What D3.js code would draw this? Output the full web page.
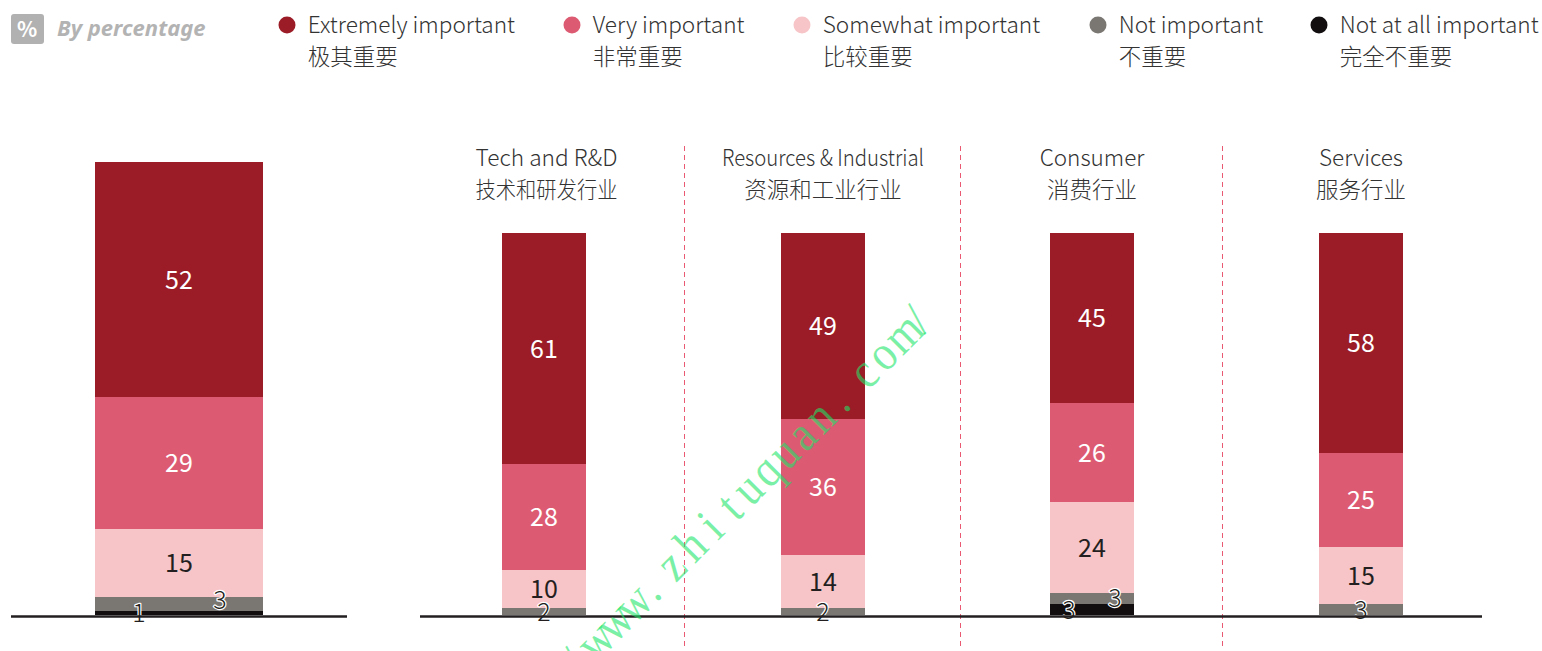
<!DOCTYPE html>
<html><head><meta charset="utf-8">
<script src="https://cdn.jsdelivr.net/npm/d3@7/dist/d3.min.js"></script>
<style>
html,body{margin:0;padding:0;background:#fff;overflow:hidden}
svg{display:block}
text{font-family:"Noto Sans CJK SC","Noto Sans",sans-serif}
</style></head><body><svg id="c" width="1542" height="651"></svg>
<script>
const seriesEn = ["Extremely important","Very important","Somewhat important","Not important","Not at all important"];
const seriesZh = ["极其重要","非常重要","比较重要","不重要","完全不重要"];
const seriesColors = ["#9b1c26","#dd5b72","#f7c4c8","#7a7773","#120e0f"];
const categories = ["Total","Tech and R&D","Resources & Industrial","Consumer","Services"];
const categoriesZh = ["","技术和研发行业","资源和工业行业","消费行业","服务行业"];
const extremely = [52,61,49,45,58];
const very = [29,28,36,26,25];
const somewhat = [15,10,14,24,15];
const notImportant = [3,2,2,3,3];
const notAtAll = [1,0,0,3,0];
const watermark = "/ www. zhi tuquan. com/";

const svg = d3.select("#c");
const keys = ["a","b","c","d","e"];
const rows = categories.map((name,i)=>({name,i,a:extremely[i],b:very[i],c:somewhat[i],d:notImportant[i],e:notAtAll[i]}));
const stacked = d3.stack().keys(keys.slice().reverse())(rows);

const yTotal = d3.scaleLinear().domain([0,100]).range([615.2,161.6]).interpolate(d3.interpolateRound);
const ySector = d3.scaleLinear().domain([0,101]).range([615.4,233]).interpolate(d3.interpolateRound);
const xCenter = d3.scaleOrdinal().domain(categories).range([179,544,823,1092,1361]);
const barW = i => i===0 ? 168 : 84;
const yOf = i => i===0 ? yTotal : ySector;

// badge + legend
svg.append("rect").attr("x",11).attr("y",14).attr("width",33).attr("height",30).attr("rx",3).attr("fill","#b1b1b1");
svg.append("text").attr("x",27).attr("y",36.5).attr("text-anchor","middle").attr("font-size",21).attr("font-weight",700).attr("fill","#fff").text("%");
svg.append("text").attr("x",57).attr("y",36).attr("font-size",22).attr("font-weight",700).attr("font-style","italic").attr("fill","#b3b3b3").style("font-family",'"Noto Sans",sans-serif').text("By percentage");

const legendX = d3.scaleOrdinal().domain(seriesEn).range([287,572,802,1098,1319]);
const lg = svg.append("g").selectAll("g").data(seriesEn).join("g").attr("transform",d=>`translate(${legendX(d)},0)`);
lg.append("circle").attr("cy",25).attr("r",8.5).attr("fill",(d,i)=>seriesColors[i]);
lg.append("text").attr("x",20.7).attr("y",33).attr("font-size",22.6).attr("font-weight",300).attr("fill","#333").text(d=>d);
lg.append("text").attr("x",20.7).attr("y",65).attr("font-size",22.5).attr("font-weight",300).attr("fill","#333").text((d,i)=>seriesZh[i]);

// panel headings
const headOffset = d => d.startsWith("Tech") ? 2.5 : 0;
const hd = svg.append("g").selectAll("g").data(categories.slice(1)).join("g").attr("transform",d=>`translate(${xCenter(d)+headOffset(d)},0)`);
hd.append("text").attr("y",166).attr("text-anchor","middle").attr("font-weight",300).attr("fill","#333")
  .attr("font-size",d=>d.startsWith("Tech")?22.7:22.5)
  .each(function(d){ if(d.startsWith("Resources")) d3.select(this).attr("textLength",202).attr("lengthAdjust","spacingAndGlyphs"); })
  .text(d=>d);
hd.append("text").attr("y",198).attr("text-anchor","middle").attr("font-weight",300).attr("fill","#333")
  .attr("font-size",22.5)
  .each(function(d,i){ if(i===0) d3.select(this).attr("textLength",142).attr("lengthAdjust","spacingAndGlyphs"); })
  .text((d,i)=>categoriesZh[i+1]);

// dividers
const dividers = [684.5,960.5,1222.5];
svg.append("g").selectAll("line").data(dividers).join("line")
  .attr("x1",d=>d).attr("x2",d=>d).attr("y1",146).attr("y2",648)
  .attr("stroke","#e95a72").attr("stroke-width",1).attr("stroke-dasharray","5 4");

// bars
const colorOf = k => seriesColors[keys.indexOf(k)];
const g = svg.append("g");
stacked.forEach(layer=>{
  g.selectAll(null).data(layer).join("rect")
    .attr("x",d=>xCenter(d.data.name)-barW(d.data.i)/2)
    .attr("width",d=>barW(d.data.i))
    .attr("y",d=>yOf(d.data.i)(d[1]))
    .attr("height",d=>yOf(d.data.i)(d[0])-yOf(d.data.i)(d[1]))
    .attr("fill",colorOf(layer.key));
});

// baselines
svg.append("g").selectAll("line").data([[11,347],[420,1482]]).join("line")
  .attr("x1",d=>d[0]).attr("x2",d=>d[1]).attr("y1",616.5).attr("y2",616.5)
  .attr("stroke","#231f20").attr("stroke-width",2.6);

// value labels
const labels = g.append("g");
stacked.slice().reverse().forEach(layer=>{
  const k = layer.key;
  layer.forEach(d=>{
    const v = d[1]-d[0];
    if(!v) return;
    const i = d.data.i, y = yOf(i);
    const both = d.data.e>0;
    const off = both ? (k==="d" ? (i===0?41:23) : k==="e" ? (i===0?-40:-23) : 0) : 0;
    const dy = (i===0 && k==="d") ? -4 : (k==="d" && i===3 ? -1 : 0);
    const thin = k==="d"||k==="e";
    const t = labels.append("text")
      .attr("x",xCenter(d.data.name)+off)
      .attr("y",(y(d[0])+y(d[1]))/2+dy+9)
      .attr("text-anchor","middle").attr("font-size",25)
      .attr("fill",k==="a"||k==="b"?"#fff":"#231f20")
      .text(v);
    if(thin) t.attr("font-weight",300).attr("stroke","#fff").attr("stroke-width",2.4).attr("paint-order","stroke").attr("stroke-linejoin","round");
  });
});

// watermark: per-glyph advance along the writing direction
const sx = 0.88;
const steps = [0,15,15,26.5,26.5,22,16,16,28,27.7,13.5,13.5,25.4,25.4,25.4,25.4,25.4,25.4,18.4,18.4,26,30,20];
let along = 0;
const glyphX = steps.map(s=>{ along += s; return (along/sx).toFixed(1); });
const dot1Along = d3.sum(steps.slice(0,6));
svg.append("text").attr("transform",`translate(${660-dot1Along*Math.SQRT1_2},${599+dot1Along*Math.SQRT1_2}) rotate(-45) scale(${sx},1)`)
  .attr("font-size",50).attr("fill","rgba(30,230,105,0.6)").attr("text-anchor","middle")
  .style("font-family",'"Liberation Serif",serif').style("white-space","pre")
  .attr("x",glyphX.join(" "))
  .text(watermark);
</script></body></html>
